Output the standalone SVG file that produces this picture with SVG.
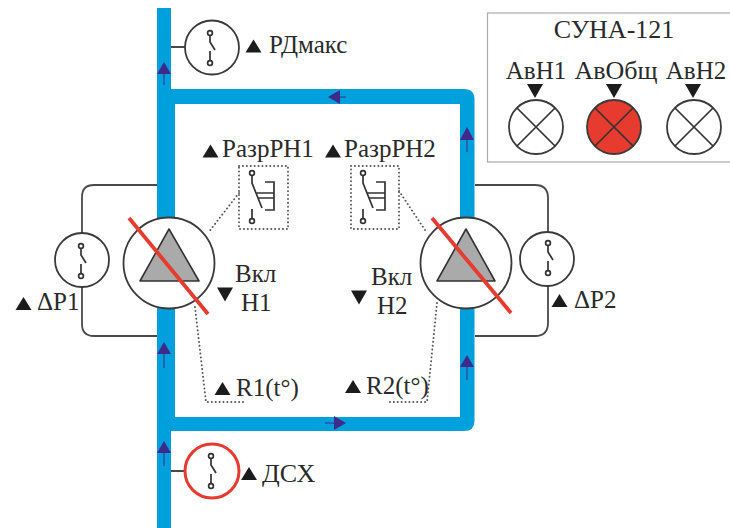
<svg xmlns="http://www.w3.org/2000/svg" width="730" height="528" viewBox="0 0 730 528" font-family="'Liberation Serif', 'Times New Roman', serif" font-size="25">
<defs>
<style>
text{fill:#2a2a2a}
.w{fill:#fff;stroke:#3a3a3a;stroke-width:1.8}
.t{fill:none;stroke:#4a4a4a;stroke-width:1.8}
.d{fill:none;stroke:#555;stroke-width:1.9;stroke-dasharray:0.1 3.8;stroke-linecap:round}
.s{fill:none;stroke:#333;stroke-width:1.7}
.k{fill:#1c1c1c}
.a{fill:#3f2a8c}
.as{stroke:#3f2a8c;stroke-width:1;fill:none}
.p{fill:#00a0dc}
.g{fill:#aaa;stroke:#333;stroke-width:1.6;stroke-linejoin:round}
.r{stroke:#e63b2e;stroke-width:3.8;fill:none}
.b{font-size:26px}
</style>
<g id="sw"><circle class="s" cx="0" cy="-15" r="2.4"/><circle class="s" cx="0" cy="15" r="2.4"/><path class="s" d="M0-12.600V-6L5 2M0 3V12.600"/></g>
<g id="key"><circle class="s" cx="0" cy="0" r="2.400"/><circle class="s" cx="0" cy="48" r="2.400"/><path class="s" d="M0 2.400V10L10 35M0 36V45.600M13 9H22V37H13M4 20H22M6 25H22"/></g>
<g id="lampx"><path class="s" d="M-19-19L19 19M-19 19L19-19"/></g>
<path id="up" class="k" d="M0-6.500L8 6.500H-8Z"/>
<path id="dn" class="k" d="M0 7L-8-7H8Z"/>
</defs>
<rect width="730" height="528" fill="#fff"/>
<g id="connectors">
<path class="p" d="M157 8H171V89H464Q474.500 89 474.500 99.500V421Q474.500 431 464 431H171V528H157Z"/>
<path fill="#fff" d="M175 104H460V417H175Z"/>
<path class="t" d="M157 185H94Q82 185 82 197V233M82 287V324Q82 336 94 336H157"/>
<path class="t" d="M475 185H535Q548 185 548 198V232M548 286V323Q548 336 535 336H475"/>
<path class="t" d="M171 47H185M171 471H184"/>
<path class="d" d="M239 193L208 233M399 191L427 233M195 307L206 402H245M437 303L427 402H388"/>
<g id="flow-arrows">
<path class="as" d="M164 72V85M164 450V466M164 352V368M467 136V152M467 365V380M338 97H346M336 423H325"/>
<path class="a" d="M164 62L171 74H157ZM164 441L171 453H157ZM164 342L171 354H157ZM467 127L474 140H460ZM467 355L474 367H460ZM328 97L340 90V104ZM346 423L334 416V430Z"/>
</g>
</g>
<g id="pump1"><circle class="w" cx="169" cy="263" r="45.500"/><path class="g" d="M169 229L199 281H140Z"/><path class="r" d="M129 218L208 314"/></g>
<g id="pump2"><circle class="w" cx="466" cy="263" r="45.500"/><path class="g" d="M466 229L495 281H437Z"/><path class="r" d="M432 218L511 313"/></g>
<g id="rdmax"><circle class="w" cx="212" cy="47.500" r="27"/><use href="#sw" x="210" y="48"/><use href="#up" x="253.500" y="46"/><text x="269" y="53">РДмакс</text></g>
<g id="dsx"><circle cx="212" cy="471" r="27" fill="#fff" stroke="#e63b2e" stroke-width="3"/><use href="#sw" x="211" y="471"/><use href="#up" x="249" y="473.500"/><text class="b" x="262" y="482">ДСХ</text></g>
<g id="dp1"><circle class="w" cx="82" cy="260" r="27"/><use href="#sw" x="81" y="261"/><use href="#up" x="23.500" y="303.500"/><text x="37" y="310">ΔР1</text></g>
<g id="dp2"><circle class="w" cx="547" cy="259" r="27"/><use href="#sw" x="548" y="258"/><use href="#up" x="559.500" y="300.500"/><text x="574" y="308">ΔР2</text></g>
<g id="razr1"><rect class="d" x="239" y="166" width="49" height="63"/><use href="#key" x="252" y="173"/><use href="#up" x="210.500" y="151"/><text x="222" y="157">РазрРН1</text></g>
<g id="razr2"><rect class="d" x="351" y="166" width="48" height="63"/><use href="#key" x="363" y="173"/><use href="#up" x="333" y="151"/><text x="344" y="157">РазрРН2</text></g>
<g id="vkl1"><use href="#dn" x="225" y="294.500"/><text x="235" y="282">Вкл</text><text x="241" y="311">Н1</text></g>
<g id="vkl2"><use href="#dn" x="359" y="297.500"/><text x="371" y="285">Вкл</text><text x="377" y="314">Н2</text></g>
<g id="r1"><use href="#up" x="222.500" y="388.500"/><text x="236" y="396">R1(t°)</text></g>
<g id="r2"><use href="#up" x="353" y="386.500"/><text x="366" y="394">R2(t°)</text></g>
<g id="panel"><rect x="487.500" y="13" width="250" height="149" fill="#fff" stroke="#aaa" stroke-width="1.200"/>
<text class="b" x="614" y="38" text-anchor="middle">СУНА-121</text>
<text x="536" y="79" text-anchor="middle">АвН1</text><text class="b" x="616" y="79" text-anchor="middle">АвОбщ</text><text x="696" y="79" text-anchor="middle">АвН2</text>
<use href="#dn" x="535" y="91"/><use href="#dn" x="614" y="91"/><use href="#dn" x="693" y="91"/>
</g>
<g id="lamp1"><circle class="w" cx="536" cy="127" r="27"/><use href="#lampx" x="536" y="127"/></g>
<g id="lamp2"><circle cx="614" cy="127" r="27" fill="#e63b2e" stroke="#3a3a3a" stroke-width="1.800"/><use href="#lampx" x="614" y="127"/></g>
<g id="lamp3"><circle class="w" cx="694" cy="127" r="27"/><use href="#lampx" x="694" y="127"/></g>
</svg>
